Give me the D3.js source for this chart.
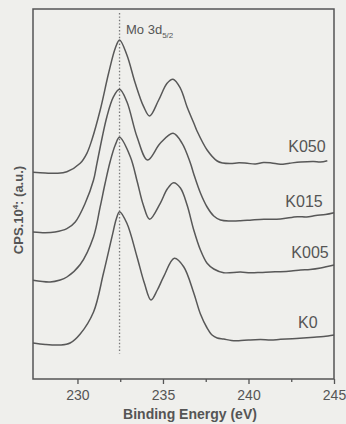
<!DOCTYPE html>
<html>
<head>
<meta charset="utf-8">
<script src="https://cdn.jsdelivr.net/npm/d3@7"></script>
<style>
html, body { margin: 0; padding: 0; background: #efefec; }
svg { display: block; }
.axis path { stroke: none; }
.axis line { stroke: #555; stroke-width: 1.3; }
.axis text { font-family: "Liberation Sans", Arial, sans-serif; font-size: 14px; fill: #555; }
.spectrum { fill: none; stroke: #585858; stroke-width: 1.5; }
.series-label { font-family: "Liberation Sans", Arial, sans-serif; font-size: 16px; fill: #555; }
</style>
</head>
<body>
<svg></svg>
<script>
// Mo 3d XPS spectra (intensity in arbitrary units, offset per sample)
var seriesNames = ["K050", "K015", "K005", "K0"];

var energyK050 = [227.40, 228.11, 228.79, 229.38, 230.16, 230.55, 230.84, 231.33, 231.82, 232.21, 232.46, 232.89, 233.38, 233.87, 234.22, 234.75, 235.24, 235.59, 236.02, 236.41, 236.80, 236.99, 237.58, 238.17, 238.50, 238.95, 239.45, 239.92, 240.40, 240.88, 241.35, 241.87, 242.40, 243.05, 243.81, 244.20, 244.61];
var countsK050 = [20.67, 20.60, 20.57, 20.73, 21.57, 22.57, 23.90, 26.90, 30.57, 33.07, 33.90, 32.40, 29.57, 27.23, 26.30, 27.90, 29.57, 29.97, 29.07, 27.20, 25.60, 24.80, 22.90, 21.80, 21.60, 21.55, 21.62, 21.57, 21.50, 21.65, 21.60, 21.47, 21.58, 21.70, 21.75, 21.70, 21.83];

var energyK015 = [227.40, 228.11, 228.69, 229.38, 229.87, 230.45, 230.94, 231.14, 231.72, 232.11, 232.46, 232.89, 233.48, 234.10, 234.84, 235.59, 236.12, 236.60, 236.80, 237.19, 237.58, 237.97, 238.36, 238.95, 239.53, 240.20, 240.90, 241.87, 242.85, 243.40, 243.93, 244.50, 245.00];
var countsK015 = [14.70, 14.63, 14.70, 15.03, 15.70, 17.57, 19.90, 21.57, 26.23, 28.23, 28.97, 27.73, 24.23, 21.90, 23.57, 24.57, 23.57, 21.60, 20.50, 18.60, 17.20, 16.30, 15.90, 15.80, 15.82, 15.90, 15.97, 16.00, 16.23, 16.20, 16.35, 16.45, 16.63];

var energyK005 = [227.40, 228.40, 228.99, 229.38, 230.16, 230.94, 231.33, 231.62, 231.92, 232.21, 232.46, 233.09, 233.50, 233.85, 234.22, 234.84, 235.25, 235.62, 236.02, 236.41, 236.80, 237.19, 237.58, 237.97, 238.55, 239.53, 240.10, 240.70, 241.30, 241.87, 242.50, 243.05, 243.60, 244.22, 245.00];
var countsK005 = [9.87, 9.70, 9.90, 10.20, 11.45, 14.23, 17.23, 19.60, 21.80, 23.40, 24.17, 22.23, 19.70, 17.40, 15.97, 17.57, 19.00, 19.63, 19.10, 17.40, 14.90, 12.90, 11.57, 11.00, 10.63, 10.70, 10.62, 10.65, 10.70, 10.73, 10.80, 10.90, 10.95, 11.10, 11.40];

var energyK0 = [227.40, 228.11, 228.99, 229.57, 230.16, 230.94, 231.52, 232.02, 232.27, 232.46, 232.89, 233.48, 233.91, 234.30, 234.67, 235.04, 235.66, 236.21, 236.80, 237.19, 237.58, 237.87, 238.17, 238.55, 239.00, 239.43, 240.00, 240.70, 241.30, 241.87, 242.80, 243.83, 244.40, 245.00];
var countsK0 = [3.60, 3.45, 3.40, 3.60, 4.50, 6.70, 10.57, 14.23, 16.00, 16.73, 15.57, 12.23, 9.60, 7.90, 8.90, 10.23, 12.07, 11.23, 8.60, 6.50, 5.10, 4.40, 4.10, 4.00, 3.85, 3.83, 3.90, 3.95, 3.90, 3.97, 4.05, 4.17, 4.25, 4.40];

// where each sample name sits (right end of text, counts level)
var labelEnergy = [244.51, 244.34, 244.69, 244.04];
var labelCounts = [22.67, 17.17, 12.07, 5.07];

var majorTicks = [230, 235, 240, 245];
var minorTicks = [232.5, 237.5, 242.5];
var moLine = 232.46;

var width = 346, height = 424;
var plotLeft = 33, plotRight = 334, plotTop = 9, plotBottom = 379;

var svg = d3.select("svg").attr("width", width).attr("height", height);

var x = d3.scaleLinear().domain([227.4, 245]).range([plotLeft, plotRight]);
var y = d3.scaleLinear().domain([0, 37]).range([plotBottom, plotTop]);

var energies = [energyK050, energyK015, energyK005, energyK0];
var counts = [countsK050, countsK015, countsK005, countsK0];

var line = d3.line()
    .x(function(d) { return x(d[0]); })
    .y(function(d) { return y(d[1]); })
    .curve(d3.curveCatmullRom.alpha(0.5));

// dotted reference line at Mo 3d5/2
svg.append("line")
    .attr("x1", x(moLine)).attr("x2", x(moLine))
    .attr("y1", y(36.6)).attr("y2", y(2.55))
    .style("stroke", "#777")
    .style("stroke-width", 1.3)
    .style("stroke-dasharray", "1.4,2");

seriesNames.forEach(function(name, i) {
    var pts = d3.zip(energies[i], counts[i]);
    svg.append("path")
        .attr("class", "spectrum")
        .attr("d", line(pts));

    svg.append("text")
        .attr("class", "series-label")
        .attr("x", x(labelEnergy[i]))
        .attr("y", y(labelCounts[i]))
        .attr("text-anchor", "end")
        .text(name);
});

// frame
svg.append("rect")
    .attr("x", plotLeft).attr("y", plotTop)
    .attr("width", plotRight - plotLeft).attr("height", plotBottom - plotTop)
    .style("fill", "none")
    .style("stroke", "#555")
    .style("stroke-width", 1.5);

svg.append("g")
    .attr("class", "axis")
    .attr("transform", "translate(0," + plotBottom + ")")
    .call(d3.axisBottom(x).tickValues(majorTicks).tickSize(5).tickPadding(6).tickFormat(d3.format("d")));

svg.append("g")
    .attr("class", "axis")
    .attr("transform", "translate(0," + plotBottom + ")")
    .call(d3.axisBottom(x).tickValues(minorTicks).tickSize(3).tickFormat(""));

// peak annotation
var mo = svg.append("text")
    .attr("x", 126).attr("y", 34)
    .style("font-family", "Liberation Sans, Arial, sans-serif")
    .style("font-size", "13px")
    .style("fill", "#555");
mo.append("tspan").text("Mo 3d");
mo.append("tspan").attr("dy", 4).style("font-size", "8px").text("5/2");

svg.append("text")
    .attr("x", 190).attr("y", 419)
    .attr("text-anchor", "middle")
    .style("font-family", "Liberation Sans, Arial, sans-serif")
    .style("font-size", "14px")
    .style("font-weight", "bold")
    .style("fill", "#555")
    .text("Binding Energy (eV)");

var yl = svg.append("text")
    .attr("transform", "translate(23,210) rotate(-90)")
    .attr("text-anchor", "middle")
    .style("font-family", "Liberation Sans, Arial, sans-serif")
    .style("font-size", "13px")
    .style("font-weight", "bold")
    .style("fill", "#555");
yl.append("tspan").text("CPS.10");
yl.append("tspan").attr("dy", -5).style("font-size", "8px").text("4");
yl.append("tspan").attr("dy", 5).text(": (a.u.)");
</script>
</body>
</html>
